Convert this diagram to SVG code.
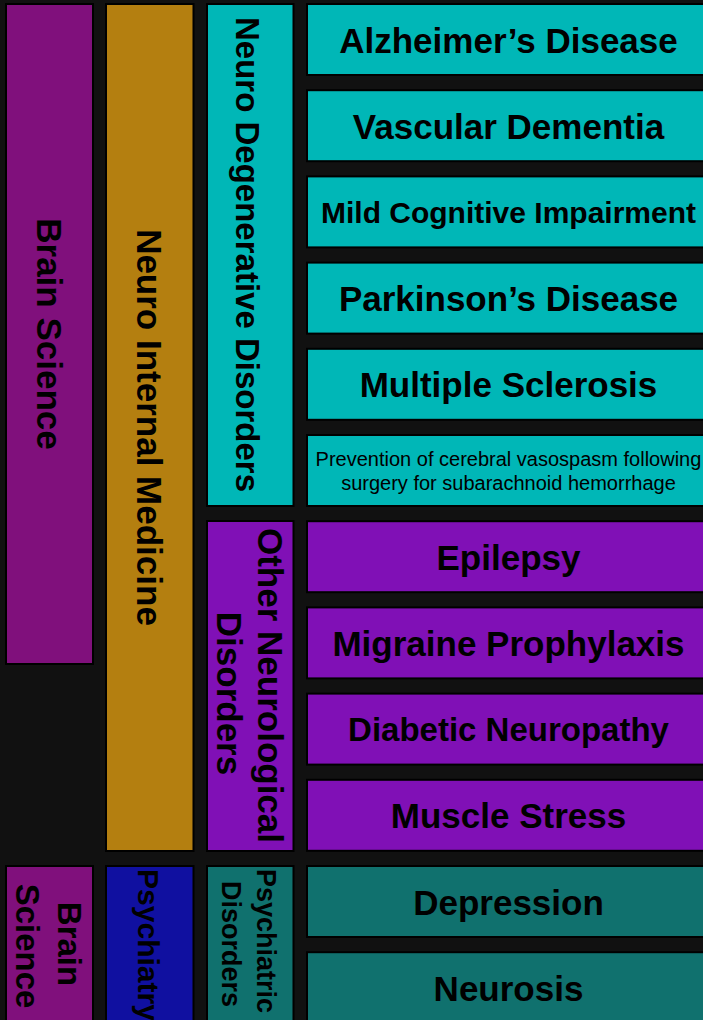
<svg xmlns="http://www.w3.org/2000/svg" width="703" height="1020" viewBox="0 0 703 1020">
<style>
.box{stroke:#000;stroke-width:2}
.t{font-family:"Liberation Sans",Arial,sans-serif;font-weight:bold;fill:#000;text-anchor:middle}
.r{font-family:"Liberation Sans",Arial,sans-serif;font-weight:normal;fill:#000;text-anchor:middle}
.bs{fill:#80107C}.gold{fill:#B47F10}.teal{fill:#00B7B7}.vio{fill:#8010B6}.dteal{fill:#10716E}.blue{fill:#1010A0}
</style>
<rect x="0" y="0" width="703" height="1020" fill="#111111"/>
<g id="connectors"/>
<g id="brain-science-top"><rect class="box bs" x="6" y="4" width="87" height="660"/>
<text class="t" font-size="35" transform="translate(49.5,334) rotate(90)" x="0" y="12.5">Brain Science</text></g>
<g id="neuro-internal-medicine"><rect class="box gold" x="106" y="4" width="87.5" height="847"/>
<text class="t" font-size="35" transform="translate(149.5,427.5) rotate(90)" x="0" y="12.5">Neuro Internal Medicine</text></g>
<g id="neuro-degenerative"><rect class="box teal" x="207" y="4" width="86.5" height="502"/>
<text class="t" font-size="33" transform="translate(248,254.5) rotate(90)" x="0" y="11.8">Neuro Degenerative Disorders</text></g>
<g id="other-neurological"><rect class="box vio" x="207" y="521" width="86.5" height="330"/>
<text class="t" font-size="35" transform="rotate(90)"><tspan x="685.5" y="-257.5">Other Neurological</tspan><tspan x="693.5" y="-217">Disorders</tspan></text></g>
<g id="alzheimers"><rect class="box teal" x="307" y="4" width="403" height="71"/><text class="t" font-size="35" x="508.5" y="52.5">Alzheimer’s Disease</text></g>
<g id="vascular-dementia"><rect class="box teal" x="307" y="90.2" width="403" height="71"/><text class="t" font-size="35" x="508.5" y="138.7">Vascular Dementia</text></g>
<g id="mild-cognitive"><rect class="box teal" x="307" y="176.4" width="403" height="71"/><text class="t" font-size="30" x="508.5" y="222.8">Mild Cognitive Impairment</text></g>
<g id="parkinsons"><rect class="box teal" x="307" y="262.6" width="403" height="71"/><text class="t" font-size="35" x="508.5" y="311.1">Parkinson’s Disease</text></g>
<g id="multiple-sclerosis"><rect class="box teal" x="307" y="348.8" width="403" height="71"/><text class="t" font-size="35" x="508.5" y="397.3">Multiple Sclerosis</text></g>
<g id="vasospasm"><rect class="box teal" x="307" y="435" width="403" height="71"/><text class="r" font-size="20"><tspan x="508.5" y="465.5">Prevention of cerebral vasospasm following</tspan><tspan x="508.5" y="489.5">surgery for subarachnoid hemorrhage</tspan></text></g>
<g id="epilepsy"><rect class="box vio" x="307" y="521.2" width="403" height="71"/><text class="t" font-size="35" x="508.5" y="569.7">Epilepsy</text></g>
<g id="migraine"><rect class="box vio" x="307" y="607.4" width="403" height="71"/><text class="t" font-size="35" x="508.5" y="655.9">Migraine Prophylaxis</text></g>
<g id="diabetic-neuropathy"><rect class="box vio" x="307" y="693.6" width="403" height="71"/><text class="t" font-size="33" x="508.5" y="741.3">Diabetic Neuropathy</text></g>
<g id="muscle-stress"><rect class="box vio" x="307" y="779.8" width="403" height="71"/><text class="t" font-size="35" x="508.5" y="828.3">Muscle Stress</text></g>
<g id="brain-science-bottom"><rect class="box bs" x="6" y="866" width="87" height="170"/>
<text class="t" font-size="33" transform="rotate(90)"><tspan x="944" y="-57.5">Brain</tspan><tspan x="946" y="-16">Science</tspan></text></g>
<g id="psychiatry"><rect class="box blue" x="106" y="866" width="87.5" height="170"/>
<text class="t" font-size="30" transform="rotate(90)" x="945" y="-138">Psychiatry</text></g>
<g id="psychiatric-disorders"><rect class="box dteal" x="207" y="866" width="86.5" height="170"/>
<text class="t" font-size="27" transform="rotate(90)"><tspan x="941" y="-257">Psychiatric</tspan><tspan x="944" y="-222">Disorders</tspan></text></g>
<g id="depression"><rect class="box dteal" x="307" y="866" width="403" height="71"/><text class="t" font-size="35" x="508.5" y="914.5">Depression</text></g>
<g id="neurosis"><rect class="box dteal" x="307" y="952.2" width="403" height="71"/><text class="t" font-size="35" x="508.5" y="1000.7">Neurosis</text></g>
</svg>
